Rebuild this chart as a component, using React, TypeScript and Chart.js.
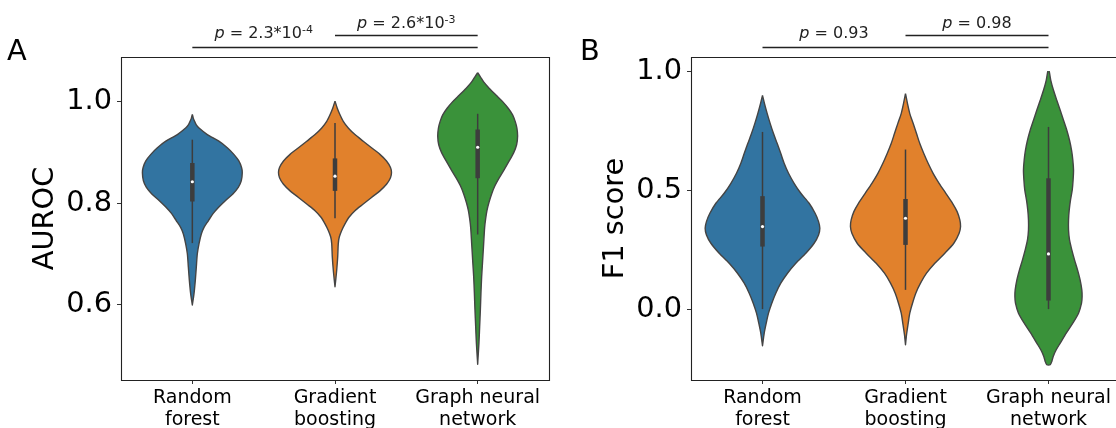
import React, { useEffect, useRef } from 'react';
import { Chart, registerables } from 'chart.js';

Chart.register(...registerables);

// ---------- data ----------
const categories = [['Random', 'forest'], ['Gradient', 'boosting'], ['Graph neural', 'network']];
const violinColors = ['#3274a1', '#e1812c', '#3a923a'];

// violin outlines: [value, half-width (category units)]
const aurocRandomForest = [[0.975, 0], [0.967, 0.007], [0.961, 0.016], [0.954, 0.028], [0.948, 0.047], [0.935, 0.105], [0.922, 0.186], [0.909, 0.245], [0.896, 0.291], [0.883, 0.326], [0.870, 0.345], [0.860, 0.350], [0.844, 0.343], [0.831, 0.322], [0.818, 0.284], [0.805, 0.233], [0.792, 0.186], [0.779, 0.145], [0.765, 0.112], [0.752, 0.082], [0.739, 0.063], [0.720, 0.047], [0.700, 0.035], [0.674, 0.028], [0.648, 0.021], [0.622, 0.012], [0.599, 0]];
const aurocGradientBoosting = [[1.001, 0], [0.987, 0.016], [0.974, 0.035], [0.961, 0.058], [0.948, 0.093], [0.935, 0.140], [0.922, 0.198], [0.909, 0.256], [0.896, 0.315], [0.883, 0.361], [0.870, 0.389], [0.860, 0.396], [0.850, 0.389], [0.837, 0.361], [0.824, 0.315], [0.811, 0.256], [0.798, 0.198], [0.785, 0.140], [0.772, 0.098], [0.759, 0.070], [0.746, 0.047], [0.733, 0.030], [0.720, 0.023], [0.694, 0.019], [0.668, 0.012], [0.648, 0.005], [0.635, 0]];
const aurocGraphNN = [[1.057, 0], [1.049, 0.019], [1.039, 0.042], [1.026, 0.082], [1.013, 0.128], [1.000, 0.175], [0.987, 0.214], [0.974, 0.245], [0.961, 0.263], [0.948, 0.275], [0.932, 0.280], [0.915, 0.273], [0.899, 0.252], [0.883, 0.221], [0.866, 0.186], [0.850, 0.152], [0.834, 0.121], [0.818, 0.098], [0.801, 0.079], [0.785, 0.065], [0.769, 0.056], [0.752, 0.049], [0.720, 0.042], [0.687, 0.035], [0.655, 0.028], [0.622, 0.023], [0.590, 0.019], [0.557, 0.014], [0.524, 0.009], [0.492, 0.002], [0.482, 0]];

const f1RandomForest = [[0.899, 0], [0.864, 0.014], [0.822, 0.033], [0.780, 0.054], [0.738, 0.077], [0.696, 0.103], [0.654, 0.128], [0.612, 0.152], [0.571, 0.182], [0.529, 0.221], [0.487, 0.268], [0.445, 0.326], [0.403, 0.368], [0.368, 0.392], [0.340, 0.401], [0.312, 0.392], [0.277, 0.361], [0.235, 0.303], [0.193, 0.233], [0.151, 0.175], [0.109, 0.128], [0.067, 0.093], [0.025, 0.065], [-0.017, 0.042], [-0.059, 0.026], [-0.101, 0.012], [-0.154, 0]];
const f1GradientBoosting = [[0.906, 0], [0.864, 0.014], [0.822, 0.030], [0.780, 0.054], [0.738, 0.077], [0.696, 0.100], [0.654, 0.128], [0.612, 0.159], [0.571, 0.193], [0.529, 0.235], [0.487, 0.282], [0.445, 0.329], [0.410, 0.361], [0.375, 0.380], [0.347, 0.385], [0.319, 0.375], [0.277, 0.338], [0.235, 0.275], [0.193, 0.205], [0.151, 0.147], [0.109, 0.105], [0.067, 0.072], [0.025, 0.049], [-0.017, 0.030], [-0.059, 0.019], [-0.108, 0.007], [-0.150, 0]];
const f1GraphNN = [[1.001, 0.005], [0.962, 0.016], [0.920, 0.035], [0.878, 0.058], [0.836, 0.082], [0.794, 0.105], [0.752, 0.128], [0.710, 0.147], [0.668, 0.161], [0.627, 0.170], [0.585, 0.175], [0.543, 0.172], [0.501, 0.166], [0.459, 0.154], [0.417, 0.145], [0.375, 0.140], [0.333, 0.140], [0.291, 0.147], [0.249, 0.163], [0.207, 0.182], [0.165, 0.203], [0.123, 0.221], [0.081, 0.233], [0.053, 0.235], [0.025, 0.231], [-0.017, 0.210], [-0.059, 0.170], [-0.101, 0.124], [-0.143, 0.082], [-0.171, 0.054], [-0.199, 0.033], [-0.220, 0.023], [-0.234, 0.012]];

const aurocWhiskerLow = [0.721, 0.770, 0.738];
const aurocWhiskerHigh = [0.925, 0.958, 0.976];
const aurocQ1 = [0.803, 0.824, 0.849];
const aurocQ3 = [0.879, 0.888, 0.945];
const aurocMedian = [0.842, 0.853, 0.910];

const f1WhiskerLow = [0.0, 0.081, 0.0];
const f1WhiskerHigh = [0.745, 0.671, 0.766];
const f1Q1 = [0.263, 0.270, 0.036];
const f1Q3 = [0.475, 0.463, 0.550];
const f1Median = [0.347, 0.382, 0.232];

const aurocTicks = [0.6, 0.8, 1.0];
const f1Ticks = [0.0, 0.5, 1.0];
const aurocRange = [0.451, 1.088];
const f1Range = [-0.298, 1.06];

const aurocPValues = [{ base: '2.3*10', exp: '-4' }, { base: '2.6*10', exp: '-3' }];
const f1PValues = [{ base: '0.93', exp: '' }, { base: '0.98', exp: '' }];

// ---------- styling ----------
const FONT = '"DejaVu Sans", sans-serif';
const EDGE = '#444444';
const BOX = '#3d3d3d';

function violinPoints(profile: number[][], center: number) {
  const right = profile.map(([v, w]) => ({ x: center + w, y: v }));
  const left = profile.slice().reverse().map(([v, w]) => ({ x: center - w, y: v }));
  return [...right, ...left];
}

function decorPlugin(letter: string, letterX: number, pvals: { base: string; exp: string }[]) {
  return {
    id: 'decor' + letter,
    afterDraw(chart: any) {
      const { ctx, chartArea: a } = chart;
      const x = chart.scales.x;
      ctx.save();
      // frame
      ctx.strokeStyle = '#222';
      ctx.lineWidth = 1.1;
      ctx.beginPath();
      ctx.rect(Math.round(a.left) + 0.5, Math.round(a.top) + 0.5, Math.round(a.right - a.left), Math.round(a.bottom - a.top));
      ctx.stroke();
      // panel letter
      ctx.fillStyle = '#000';
      ctx.font = `28.8px ${FONT}`;
      ctx.textAlign = 'left';
      ctx.textBaseline = 'alphabetic';
      ctx.fillText(letter, letterX, 60);
      // brackets
      const x0 = x.getPixelForValue(0);
      const x1 = x.getPixelForValue(1);
      const x2 = x.getPixelForValue(2);
      ctx.strokeStyle = '#222';
      ctx.lineWidth = 1.3;
      ctx.beginPath();
      ctx.moveTo(x0, 47.5);
      ctx.lineTo(x2, 47.5);
      ctx.moveTo(x1, 35.5);
      ctx.lineTo(x2, 35.5);
      ctx.stroke();
      const drawP = (pv: { base: string; exp: string }, cx: number, baseline: number) => {
        ctx.fillStyle = '#222';
        const fItal = `italic 16px ${FONT}`;
        const fMain = `16px ${FONT}`;
        const fSup = `11px ${FONT}`;
        ctx.font = fItal;
        const wp = ctx.measureText('p').width;
        ctx.font = fMain;
        const rest = ' = ' + pv.base;
        const wr = ctx.measureText(rest).width;
        ctx.font = fSup;
        const ws = pv.exp ? ctx.measureText(pv.exp).width : 0;
        let sx = cx - (wp + wr + ws) / 2;
        ctx.textAlign = 'left';
        ctx.font = fItal;
        ctx.fillText('p', sx, baseline);
        sx += wp;
        ctx.font = fMain;
        ctx.fillText(rest, sx, baseline);
        sx += wr;
        if (pv.exp) {
          ctx.font = fSup;
          ctx.fillText(pv.exp, sx, baseline - 5);
        }
      };
      drawP(pvals[0], (x0 + x1) / 2, 38);
      drawP(pvals[1], (x1 + x2) / 2, 27.5);
      ctx.restore();
    },
  };
}

function buildConfig(p: any) {
  const datasets: any[] = [];
  p.profiles.forEach((prof: number[][], i: number) => {
    datasets.push({
      data: violinPoints(prof, i),
      backgroundColor: violinColors[i],
      borderColor: EDGE,
      borderWidth: 1.4,
      borderJoinStyle: 'round',
      fill: 'shape',
      pointRadius: 0,
      tension: 0.25,
      order: 3,
    });
  });
  p.lo.forEach((_: number, i: number) => {
    datasets.push({
      data: [{ x: i, y: p.lo[i] }, { x: i, y: p.hi[i] }],
      borderColor: BOX,
      borderWidth: 1.5,
      pointRadius: 0,
      fill: false,
      order: 2,
    });
    datasets.push({
      data: [{ x: i, y: p.q1[i] }, { x: i, y: p.q3[i] }],
      borderColor: BOX,
      borderWidth: 4.5,
      pointRadius: 0,
      fill: false,
      order: 1,
    });
  });
  datasets.push({
    data: p.med.map((m: number, i: number) => ({ x: i, y: m })),
    showLine: false,
    pointRadius: 1.6,
    pointBackgroundColor: '#ffffff',
    pointBorderWidth: 0,
    order: 0,
  });

  return {
    type: 'line',
    data: { datasets },
    options: {
      responsive: false,
      animation: false,
      events: [],
      layout: { padding: { left: 0, right: p.rightPad, top: 57, bottom: 0 } },
      plugins: { legend: { display: false }, tooltip: { enabled: false } },
      scales: {
        x: {
          type: 'linear',
          min: -0.5,
          max: 2.5,
          afterBuildTicks: (s: any) => {
            s.ticks = categories.map((_, i) => ({ value: i }));
          },
          afterFit: (s: any) => {
            s.height = 48;
          },
          ticks: {
            callback: (v: number) => categories[v],
            color: '#000',
            font: { family: FONT, size: 19, lineHeight: 1.15 },
            padding: 3,
            autoSkip: false,
            maxRotation: 0,
            minRotation: 0,
          },
          grid: { drawOnChartArea: false, drawTicks: true, tickLength: 4, color: '#333' },
          border: { display: false },
        },
        y: {
          type: 'linear',
          min: p.range[0],
          max: p.range[1],
          afterBuildTicks: (s: any) => {
            s.ticks = p.ticks.map((v: number) => ({ value: v }));
          },
          afterFit: (s: any) => {
            s.width = p.axisWidth;
          },
          ticks: {
            callback: (v: number) => v.toFixed(1),
            color: '#000',
            font: { family: FONT, size: 28.8 },
            padding: 5,
          },
          grid: { drawOnChartArea: false, drawTicks: true, tickLength: 4, color: '#333' },
          border: { display: false },
          title: {
            display: true,
            text: p.title,
            color: '#000',
            font: { family: FONT, size: 28.8 },
            padding: { top: p.titlePad, bottom: 0 },
          },
        },
      },
    },
    plugins: [decorPlugin(p.letter, p.letterX, p.pvals)],
  };
}

export default function App() {
  const refA = useRef<HTMLCanvasElement>(null);
  const refB = useRef<HTMLCanvasElement>(null);

  useEffect(() => {
    const a = new Chart(refA.current as HTMLCanvasElement, buildConfig({
      profiles: [aurocRandomForest, aurocGradientBoosting, aurocGraphNN],
      lo: aurocWhiskerLow, hi: aurocWhiskerHigh, q1: aurocQ1, q3: aurocQ3, med: aurocMedian,
      ticks: aurocTicks, range: aurocRange, title: 'AUROC',
      axisWidth: 121, titlePad: 28.7, rightPad: 11,
      letter: 'A', letterX: 7, pvals: aurocPValues,
    }) as any);
    const b = new Chart(refB.current as HTMLCanvasElement, buildConfig({
      profiles: [f1RandomForest, f1GradientBoosting, f1GraphNN],
      lo: f1WhiskerLow, hi: f1WhiskerHigh, q1: f1Q1, q3: f1Q3, med: f1Median,
      ticks: f1Ticks, range: f1Range, title: 'F1 score',
      axisWidth: 131, titlePad: 38.7, rightPad: 10,
      letter: 'B', letterX: 20, pvals: f1PValues,
    }) as any);
    return () => {
      a.destroy();
      b.destroy();
    };
  }, []);

  return (
    <div style={{ position: 'fixed', left: 0, top: 0, width: 1116, height: 428, overflow: 'hidden', background: '#fff' }}>
      <div style={{ position: 'absolute', left: 0, top: 0, width: 560, height: 428 }}>
        <canvas ref={refA} width={560} height={428} style={{ width: 560, height: 428, display: 'block' }} />
      </div>
      <div style={{ position: 'absolute', left: 560, top: 0, width: 570, height: 428 }}>
        <canvas ref={refB} width={570} height={428} style={{ width: 570, height: 428, display: 'block' }} />
      </div>
    </div>
  );
}
